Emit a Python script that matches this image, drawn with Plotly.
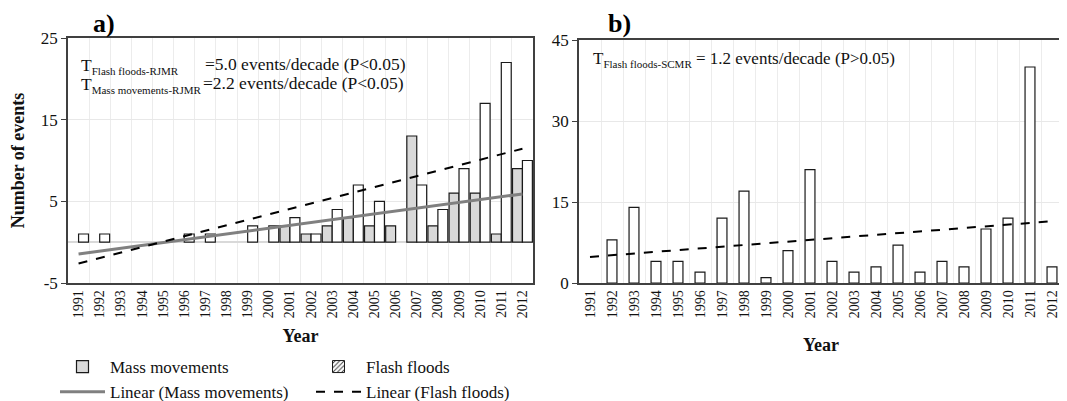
import numpy as np
import plotly.graph_objects as go

# Events per year, 1991-2012
years = list(range(1991, 2013))
mass_rjmr = [0, 0, 0, 0, 0, 0, 0, 0, 0, 0, 2, 1, 2, 3, 2, 2, 13, 2, 6, 6, 1, 9]
flash_rjmr = [1, 1, 0, 0, 0, 1, 1, 0, 2, 2, 3, 1, 4, 7, 5, 0, 7, 4, 9, 17, 22, 10]
flash_scmr = [0, 8, 14, 4, 4, 2, 12, 17, 1, 6, 21, 4, 2, 3, 7, 2, 4, 3, 10, 12, 40, 3]
ticks_a = [-5, 5, 15, 25]
ticks_b = [0, 15, 30, 45]

FONT = "Liberation Serif"
OFF = 8  # page body margin
W, H = 1067, 420
L, T = 68 - OFF, 38 - OFF
PLOT_R, PLOT_B = 1063 - OFF, 283 - OFF
R, B = W - PLOT_R, H - PLOT_B
PW, PH = W - L - R, H - T - B


def px(x):
    return (x - OFF - L) / PW


def py(y):
    return (H - B - (y - OFF)) / PH


def trend(vals):
    k, b = np.polyfit(years, vals, 1)
    return np.polyval([k, b], years)


def bars(vals):
    return [v if v else None for v in vals]


fig = go.Figure()

# panel a
fig.add_trace(go.Bar(x=years, y=bars(mass_rjmr), name="Mass movements", offsetgroup="mm",
                     marker=dict(color="#d9d9d9", line=dict(color="#1a1a1a", width=1.2)),
                     legend="legend", xaxis="x", yaxis="y"))
fig.add_trace(go.Bar(x=years, y=bars(flash_rjmr), name="Flash floods", offsetgroup="ff", showlegend=False,
                     marker=dict(color="white", line=dict(color="#1a1a1a", width=1.2)),
                     xaxis="x", yaxis="y"))
fig.add_trace(go.Bar(x=[years[0]], y=[None], name="Flash floods", offsetgroup="ff",
                     marker=dict(color="white", line=dict(color="#1a1a1a", width=1),
                                 pattern=dict(shape="/", fgcolor="#404040", size=4, solidity=0.3)),
                     legend="legend2", xaxis="x", yaxis="y"))
fig.add_trace(go.Scatter(x=years, y=trend(mass_rjmr), mode="lines", name="Linear (Mass movements)",
                         line=dict(color="#808080", width=3), legend="legend", xaxis="x", yaxis="y"))
fig.add_trace(go.Scatter(x=years, y=trend(flash_rjmr), mode="lines", name="Linear (Flash floods)",
                         line=dict(color="black", width=2, dash="dash"), legend="legend2",
                         xaxis="x", yaxis="y"))

# panel b
fig.add_trace(go.Bar(x=years, y=bars(flash_scmr), width=0.45, showlegend=False,
                     marker=dict(color="white", line=dict(color="#1a1a1a", width=1.2)),
                     xaxis="x2", yaxis="y2"))
fig.add_trace(go.Scatter(x=years, y=trend(flash_scmr), mode="lines", showlegend=False,
                         line=dict(color="black", width=2, dash="dash"), xaxis="x2", yaxis="y2"))

xcommon = dict(range=[1990.5, 2012.5], tickmode="array", tickvals=years, ticktext=[str(y) for y in years],
               tickangle=-90, tickfont=dict(family=FONT, size=14, color="#111"), ticks="",
               showgrid=False, showline=True, linecolor="#404040", linewidth=1.5, mirror=True,
               zeroline=False,
               minor=dict(tick0=1990.5, dtick=1, showgrid=True, gridcolor="#ececec", gridwidth=1, ticks=""))
ycommon = dict(tickfont=dict(family=FONT, size=17, color="#111"), ticks="outside", ticklen=5,
               tickcolor="#404040", showgrid=True, gridcolor="#e8e8e8", showline=True,
               linecolor="#404040", linewidth=1.5, mirror=True, tickmode="array")
title_font = dict(family=FONT, size=18, color="#111")
leg_font = dict(family=FONT, size=17, color="#111")

fig.update_layout(
    template="none",
    width=W, height=H,
    margin=dict(l=L, r=R, t=T, b=B),
    paper_bgcolor="white", plot_bgcolor="white",
    barmode="group", bargap=0.06, bargroupgap=0,
    font=dict(family=FONT, color="#111"),
    xaxis=dict(xcommon, domain=[0, px(533)], anchor="y",
               title=dict(text="<b>Year</b>", font=title_font, standoff=12)),
    yaxis=dict(ycommon, domain=[0, 1], anchor="x", range=[-5, 25],
               tickvals=ticks_a, ticktext=[str(v) for v in ticks_a],
               zeroline=True, zerolinecolor="#d9d9d9", zerolinewidth=2,
               title=dict(text="<b>Number of events</b>", font=title_font, standoff=12)),
    xaxis2=dict(xcommon, domain=[px(579), 1], anchor="y2",
                title=dict(text="<b>Year</b>", font=title_font, standoff=21)),
    yaxis2=dict(ycommon, domain=[0, py(40)], anchor="x2", range=[0, 45],
                tickvals=ticks_b, ticktext=[str(v) for v in ticks_b], zeroline=False),
    legend=dict(x=px(55), y=py(349), xanchor="left", yanchor="top", orientation="v",
                font=leg_font, itemwidth=45, bgcolor="rgba(0,0,0,0)", tracegroupgap=0),
    legend2=dict(x=px(311), y=py(349), xanchor="left", yanchor="top", orientation="v",
                 font=leg_font, itemwidth=45, bgcolor="rgba(0,0,0,0)", tracegroupgap=0),
)

ann_font = dict(family=FONT, size=17.5, color="#111")
SUB = "<sub><span style='font-size:11px'>%s</span></sub>"
notes = [
    ("<b>a)</b>", 91, 24, dict(family=FONT, size=26, color="black")),
    ("<b>b)</b>", 606, 24, dict(family=FONT, size=26, color="black")),
    ("T" + SUB % "Flash floods-RJMR", 79, 66, ann_font),
    ("=5.0 events/decade (P<0.05)", 203, 64, ann_font),
    ("T" + SUB % "Mass movements-RJMR", 79, 85, ann_font),
    ("=2.2 events/decade (P<0.05)", 201, 83, ann_font),
    ("T" + SUB % "Flash floods-SCMR" + " = 1.2 events/decade (P>0.05)", 591, 60,
     dict(family=FONT, size=17, color="#111")),
]
for text, x, y, f in notes:
    fig.add_annotation(text=text, x=px(x), y=py(y), xref="paper", yref="paper",
                       xanchor="left", yanchor="middle", showarrow=False, font=f)

fig.write_html("out.html")
